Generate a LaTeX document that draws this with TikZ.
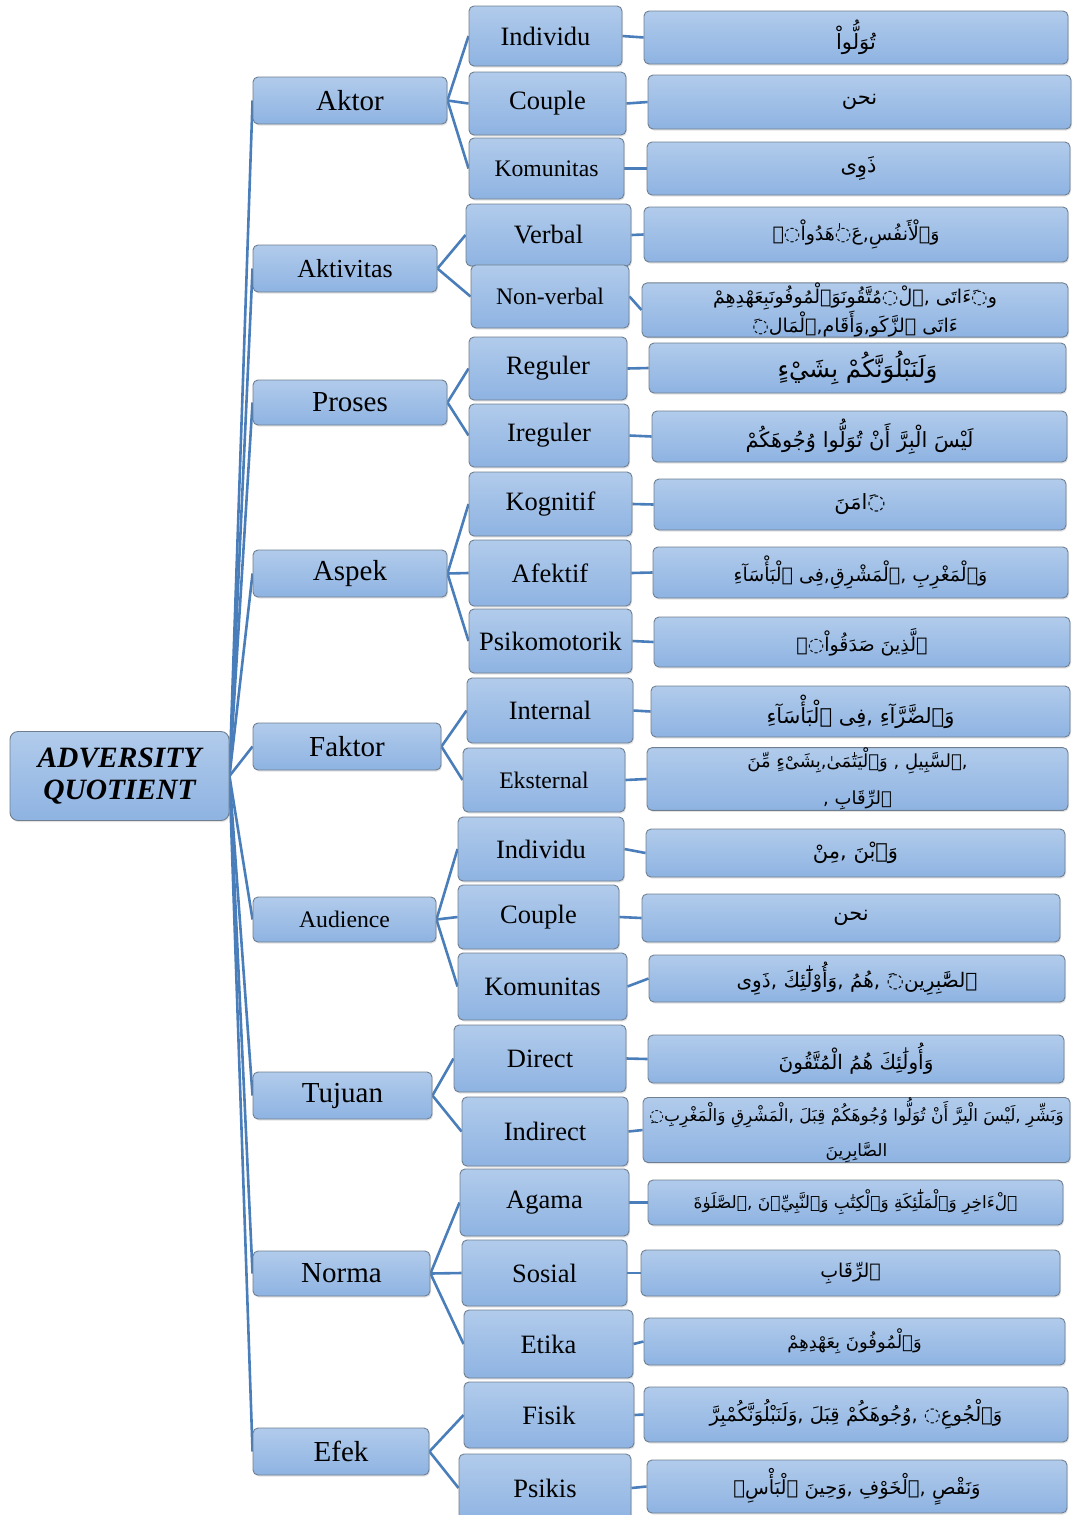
\documentclass[tikz,border=0pt]{standalone}
\usepackage{fontspec}
\setmainfont{Liberation Serif}
\newfontfamily\arabicfont[Script=Arabic]{DejaVu Sans}
\TeXXeTstate=1
\usetikzlibrary{shadows,backgrounds}
\definecolor{boxtop}{HTML}{B1CBEB}
\definecolor{boxbot}{HTML}{8EB3E2}
\definecolor{linkblue}{HTML}{4A7EBB}
\definecolor{boxline}{HTML}{6F7F90}
\tikzset{
  box/.style={draw=boxline, line width=0.9pt, rounded corners=5pt,
    top color=boxtop, bottom color=boxbot, inner sep=0pt, align=center,
    text=black, drop shadow={opacity=0.22, shadow xshift=1pt, shadow yshift=-1.5pt}},
  lone/.style={font=\fontsize{29}{32}\selectfont},
  ltwo/.style={font=\fontsize{26.5}{30}\selectfont},
  sm/.style={font=\fontsize{23.7}{28}\selectfont},
  arab/.style={font=\arabicfont\fontsize{21}{26}\selectfont},
  asz/.style 2 args={font=\arabicfont\fontsize{#1}{#2}\selectfont},
  conn/.style={draw=linkblue, line width=2.6pt},
}
\newcommand\bx[6][]{\node[box, #1, minimum width=#5pt, minimum height=#6pt] (#2) at (#3,#4)}
\newcommand\arl[1]{\beginR #1\endR}
\begin{document}
\begin{tikzpicture}[x=1pt, y=-1pt]
\useasboundingbox (0,0) rectangle (1075,1515);
% root
\node[box, rounded corners=8pt, minimum width=219pt, minimum height=89pt,
  font=\fontsize{29.5}{32}\selectfont\bfseries\itshape] (root) at (119.5,776) {ADVERSITY\\QUOTIENT};
% level 1
\begin{scope}[every node/.append style={lone}]
\bx{aktor}{350}{100.5}{194}{47}{Aktor};
\bx[font=\fontsize{26}{30}\selectfont]{aktiv}{345}{268.5}{184}{47}{Aktivitas};
\bx{proses}{350}{402.5}{194}{45}{Proses};
\bx{aspek}{350}{573.5}{194}{47}{Aspek};
\bx{faktor}{347}{746.5}{188}{47}{Faktor};
\bx[sm]{audience}{344.5}{919.5}{183}{45}{Audience};
\bx{tujuan}{342.5}{1095.5}{179}{47}{Tujuan};
\bx{norma}{341.5}{1273.5}{177}{45}{Norma};
\bx{efek}{341}{1451.5}{176}{47}{Efek};
\end{scope}
% level 2
\begin{scope}[every node/.append style={ltwo}]
\bx{a1}{545.5}{36}{153}{60}{Individu};
\bx{a2}{547.5}{103.5}{157}{63}{Couple};
\bx[sm]{a3}{546.5}{168.5}{155}{61}{Komunitas};
\bx{b1}{548.5}{235}{165}{62}{Verbal};
\bx[sm]{b2}{550}{296.5}{158}{63}{Non-verbal};
\bx{c1}{548}{368.5}{158}{63}{Reguler};
\bx{c2}{549}{435.5}{160}{63}{Ireguler};
\bx{d1}{550.5}{504}{163}{64}{Kognitif};
\bx{d2}{550}{573}{162}{66}{Afektif};
\bx{d3}{550.5}{641}{163}{64}{Psikomotorik};
\bx{e1}{550}{710.5}{166}{65}{Internal};
\bx[sm]{e2}{544}{780}{162}{64}{Eksternal};
\bx{f1}{541}{849}{166}{64}{Individu};
\bx{f2}{538.5}{917}{161}{64}{Couple};
\bx{f3}{542.5}{986.5}{169}{67}{Komunitas};
\bx{g1}{540}{1058.5}{172}{67}{Direct};
\bx{g2}{545}{1131.5}{166}{69}{Indirect};
\bx{h1}{544.5}{1202.5}{169}{67}{Agama};
\bx{h2}{544.5}{1273}{165}{66}{Sosial};
\bx{h3}{548.5}{1344}{169}{68}{Etika};
\bx{i1}{549}{1415}{170}{66}{Fisik};
\bx{i2}{545}{1488}{172}{68}{Psikis};
\end{scope}
% level 3
\begin{scope}[every node/.append style={arab}]
\bx{a1r}{856}{37.5}{424}{53}{\arl{تُوَلُّواْ}};
\bx{a2r}{859.5}{102}{423}{54}{\arl{نحن}};
\bx{a3r}{858.5}{168.5}{423}{53}{\arl{ذَوِى}};
\bx[asz={19}{24}]{b1r}{856}{234.5}{424}{55}{\arl{وَٱلْأَنفُسِ,عَ◌ٰهَدُواْ◌ۖ}};
\bx[asz={19}{26}]{b2r}{855}{310}{426}{54}{\arl{و◌َءَاتَى ,ٱلْ◌مُتَّقُونَوَٱلْمُوفُونَبِعَهْدِهِمْ}\\\arl{ءَاتَى ٱلزَّكَو,وَأَقَام,ٱلْمَال◌َ}};
\bx[asz={24.5}{28}]{c1r}{857.5}{368}{417}{50}{\arl{وَلَنَبْلُوَنَّكُمْ بِشَيْءٍ}};
\bx{c2r}{859.5}{436.5}{415}{51}{\arl{لَيْسَ الْبِرَّ أَنْ تُوَلُّوا وُجُوهَكُمْ}};
\bx{d1r}{860}{504.5}{412}{51}{\arl{◌َامَنَ}};
\bx[asz={19}{24}]{d2r}{860.5}{572.5}{415}{51}{\arl{وَٱلْمَغْرِبِ ,ٱلْمَشْرِقِ,فِى ٱلْبَأْسَآءِ}};
\bx[asz={19}{24}]{d3r}{862}{642}{416}{50}{\arl{ٱلَّذِينَ صَدَقُواْ◌ۖ}};
\bx[asz={21}{26}]{e1r}{860.5}{711.5}{419}{51}{\arl{وَٱلضَّرَّآءِ ,فِى ٱلْبَأْسَآءِ}};
\bx[asz={18}{37}]{e2r}{857.5}{779}{421}{52}{\arl{,ٱلسَّبِيلِ , وَٱلْيَتَٰمَىٰ,بِشَىْءٍ مِّنَ}\\\arl{ٱلرِّقَابِ ,}};
\bx{f1r}{855.5}{853}{419}{48}{\arl{وَٱبْنَ ,مِنْ}};
\bx{f2r}{851}{918}{418}{48}{\arl{نحن}};
\bx[asz={20}{24}]{f3r}{857}{978.5}{416}{47}{\arl{ٱلصَّٰبِرِين◌َ ,هُمُ ,وَأُوْلَٰٓئِكَ ,ذَوِى}};
\bx[asz={20}{24}]{g1r}{856}{1059}{416}{48}{\arl{وَأُولَٰئِكَ هُمُ الْمُتَّقُونَ}};
\bx[asz={17}{35}]{g2r}{856.5}{1130}{427}{48}{\arl{وَبَشِّرِ ,لَيْسَ الْبِرَّ أَنْ تُوَلُّوا وُجُوهَكُمْ قِبَلَ ,الْمَشْرِقِ وَالْمَغْرِبِ◌ِ}\\\arl{الصَّابِرِينَ}};
\bx[asz={17}{24}]{h1r}{855.5}{1202.5}{415}{45}{\arl{ٱلْءَاخِرِ وَٱلْمَلَٰٓئِكَةِ وَٱلْكِتَٰبِ وَٱلنَّبِيِّۦنَ ,ٱلصَّلَوٰةَ}};
\bx[asz={19}{24}]{h2r}{850.5}{1273}{419}{46}{\arl{ٱلرِّقَابِ}};
\bx[asz={18}{24}]{h3r}{854.5}{1341.5}{421}{47}{\arl{وَٱلْمُوفُونَ بِعَهْدِهِمْ}};
\bx[asz={19.5}{24}]{i1r}{856}{1414.5}{424}{55}{\arl{وَٱلْجُوعِ◌ ,وُجُوهَكُمْ قِبَلَ ,وَلَنَبْلُوَنَّكُمْبِرَّ}};
\bx[asz={19.5}{24}]{i2r}{857}{1486.5}{420}{53}{\arl{وَنَقْصٍ ,ٱلْخَوْفِ ,وَحِينَ ٱلْبَأْسِۗ}};
\end{scope}
% connectors
\begin{scope}[on background layer]
\foreach \n in {aktor,aktiv,proses,aspek,faktor,audience,tujuan,norma,efek}
  \draw[conn] (root.east) -- (\n.west);
\foreach \p/\c in {aktor/a1,aktor/a2,aktor/a3,aktiv/b1,aktiv/b2,proses/c1,proses/c2,
  aspek/d1,aspek/d2,aspek/d3,faktor/e1,faktor/e2,audience/f1,audience/f2,audience/f3,
  tujuan/g1,tujuan/g2,norma/h1,norma/h2,norma/h3,efek/i1,efek/i2}
  \draw[conn] (\p.east) -- (\c.west);
\foreach \c in {a1,a2,a3,b1,b2,c1,c2,d1,d2,d3,e1,e2,f1,f2,f3,g1,g2,h1,h2,h3,i1,i2}
  \draw[conn] (\c.east) -- (\c r.west);
\end{scope}
\end{tikzpicture}
\end{document}
